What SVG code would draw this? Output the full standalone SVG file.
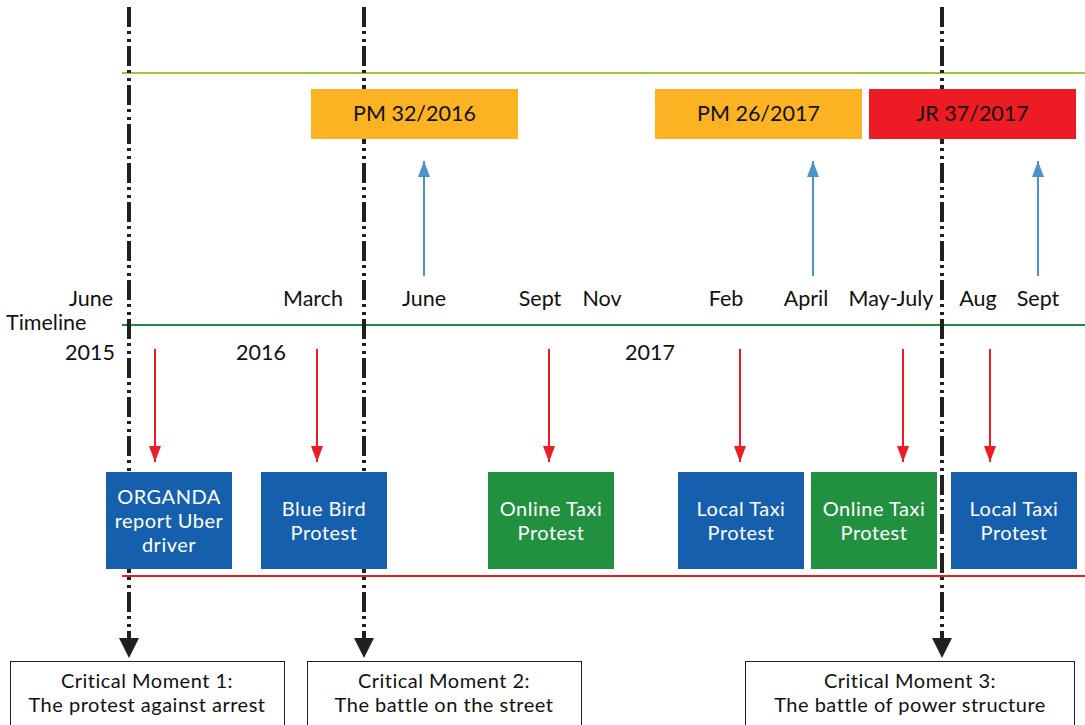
<svg xmlns="http://www.w3.org/2000/svg" width="1085" height="725" viewBox="0 0 1085 725">
  <defs>
    <marker id="ah-red" markerWidth="12" markerHeight="16" refX="6" refY="16" markerUnits="userSpaceOnUse" viewBox="0 0 12 16" orient="0">
      <path d="M0,0 L12,0 L6,16 Z" fill="#ed1c24"/>
    </marker>
    <marker id="ah-blue" markerWidth="12" markerHeight="16" refX="6" refY="0" markerUnits="userSpaceOnUse" viewBox="0 0 12 16" orient="0">
      <path d="M0,16 L12,16 L6,0 Z" fill="#4a93cc"/>
    </marker>
  </defs>
  <style>
    text { font-family: "Lato", "Liberation Sans", sans-serif; font-size: 21.5px; fill: #111; }
    .ml { font-size: 20px; letter-spacing: 0.5px; }
    .c { text-anchor: middle; }
    .r { text-anchor: end; }
    .w { fill: #ffffff; }
    .moment { stroke: #231f20; stroke-width: 4; fill: none; stroke-dasharray: 20 4 3 5 3 4; }
    .red { stroke: #ed1c24; stroke-width: 2; }
    .blue { stroke: #4a93cc; stroke-width: 2; }
    .cm rect { fill: #ffffff; stroke: #231f20; stroke-width: 1; }
  </style>

  <!-- horizontal guide lines -->
  <line x1="122" y1="73" x2="1085" y2="73" stroke="#9cc83b" stroke-width="2"/>
  <line x1="122" y1="325" x2="1085" y2="325" stroke="#1d8a41" stroke-width="2"/>
  <line x1="122" y1="576" x2="1085" y2="576" stroke="#ed1c24" stroke-width="2"/>

  <!-- connectors -->
  <g id="connectors">
    <line class="moment" x1="129" y1="7" x2="129" y2="640"/>
    <line class="moment" x1="364" y1="7" x2="364" y2="640"/>
    <line class="moment" x1="942" y1="7" x2="942" y2="640"/>
    <path d="M119,638 L139,638 L129,658 Z" fill="#231f20"/>
    <path d="M354,638 L374,638 L364,658 Z" fill="#231f20"/>
    <path d="M932,638 L952,638 L942,658 Z" fill="#231f20"/>

    <line class="blue" x1="424" y1="276" x2="424" y2="161" marker-end="url(#ah-blue)"/>
    <line class="blue" x1="813" y1="276" x2="813" y2="161" marker-end="url(#ah-blue)"/>
    <line class="blue" x1="1038" y1="276" x2="1038" y2="161" marker-end="url(#ah-blue)"/>

    <line class="red" x1="155" y1="349" x2="155" y2="462" marker-end="url(#ah-red)"/>
    <line class="red" x1="317" y1="349" x2="317" y2="462" marker-end="url(#ah-red)"/>
    <line class="red" x1="549" y1="349" x2="549" y2="462" marker-end="url(#ah-red)"/>
    <line class="red" x1="740" y1="349" x2="740" y2="462" marker-end="url(#ah-red)"/>
    <line class="red" x1="903" y1="349" x2="903" y2="462" marker-end="url(#ah-red)"/>
    <line class="red" x1="990" y1="349" x2="990" y2="462" marker-end="url(#ah-red)"/>
  </g>

  <!-- regulation boxes -->
  <g id="pm32">
    <rect x="311" y="89" width="207" height="50" fill="#fbb324"/>
    <text class="c" x="414.5" y="121">PM 32/2016</text>
  </g>
  <g id="pm26">
    <rect x="655" y="89" width="207" height="50" fill="#fbb324"/>
    <text class="c" x="758.5" y="121">PM 26/2017</text>
  </g>
  <g id="jr37">
    <rect x="869" y="89" width="207" height="50" fill="#ed1c24"/>
    <text class="c" x="972.5" y="121">JR 37/2017</text>
  </g>

  <!-- timeline labels -->
  <g id="labels">
    <text class="r" x="113" y="306">June</text>
    <text x="6" y="330">Timeline</text>
    <text class="r" x="115" y="360">2015</text>
    <text x="236" y="360">2016</text>
    <text class="r" x="343" y="306">March</text>
    <text class="c" x="424" y="306">June</text>
    <text class="c" x="540" y="306">Sept</text>
    <text class="c" x="602" y="306">Nov</text>
    <text x="625" y="360">2017</text>
    <text class="c" x="726" y="306">Feb</text>
    <text class="c" x="806" y="306">April</text>
    <text class="c" x="891" y="306">May-July</text>
    <text class="c" x="978" y="306">Aug</text>
    <text class="c" x="1038" y="306">Sept</text>
  </g>

  <!-- event boxes -->
  <g id="organda">
    <rect x="106" y="472" width="126" height="97" fill="#155fad"/>
    <text class="c w ml" x="169" y="504">ORGANDA</text>
    <text class="c w ml" x="169" y="528">report Uber</text>
    <text class="c w ml" x="169" y="552">driver</text>
  </g>
  <g id="bluebird">
    <rect x="261" y="472" width="126" height="97" fill="#155fad"/>
    <text class="c w ml" x="324" y="516">Blue Bird</text>
    <text class="c w ml" x="324" y="540">Protest</text>
  </g>
  <g id="online1">
    <rect x="488" y="472" width="126" height="97" fill="#21913f"/>
    <text class="c w ml" x="551" y="516">Online Taxi</text>
    <text class="c w ml" x="551" y="540">Protest</text>
  </g>
  <g id="local1">
    <rect x="678" y="472" width="126" height="97" fill="#155fad"/>
    <text class="c w ml" x="741" y="516">Local Taxi</text>
    <text class="c w ml" x="741" y="540">Protest</text>
  </g>
  <g id="online2">
    <rect x="811" y="472" width="126" height="97" fill="#21913f"/>
    <text class="c w ml" x="874" y="516">Online Taxi</text>
    <text class="c w ml" x="874" y="540">Protest</text>
  </g>
  <g id="local2">
    <rect x="951" y="472" width="126" height="97" fill="#155fad"/>
    <text class="c w ml" x="1014" y="516">Local Taxi</text>
    <text class="c w ml" x="1014" y="540">Protest</text>
  </g>

  <!-- critical moment boxes -->
  <g id="cm1" class="cm">
    <rect x="10.5" y="661.5" width="274" height="70"/>
    <text class="c ml" x="147" y="688">Critical Moment 1:</text>
    <text class="c ml" x="147" y="712">The protest against arrest</text>
  </g>
  <g id="cm2" class="cm">
    <rect x="307.5" y="661.5" width="274" height="70"/>
    <text class="c ml" x="444" y="688">Critical Moment 2:</text>
    <text class="c ml" x="444" y="712">The battle on the street</text>
  </g>
  <g id="cm3" class="cm">
    <rect x="745.5" y="661.5" width="329" height="70"/>
    <text class="c ml" x="910" y="688">Critical Moment 3:</text>
    <text class="c ml" x="910" y="712">The battle of power structure</text>
  </g>
</svg>
